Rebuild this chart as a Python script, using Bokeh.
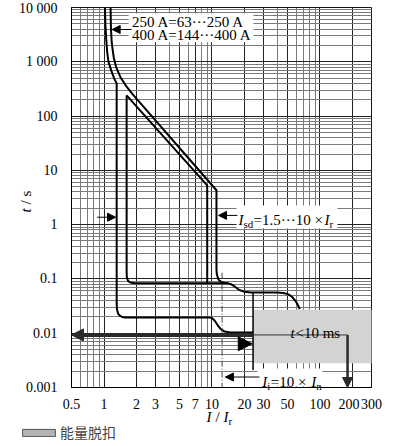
import math
from bokeh.plotting import figure
from bokeh.models import (Range1d, FixedTicker, Label, Arrow, NormalHead, Grid,
                          BoxAnnotation, Legend, LegendItem, CustomJSTickFormatter)
from bokeh.embed import file_html
from bokeh.resources import INLINE

SERIF = "Liberation Serif"
CJK = "Noto Sans CJK SC"

# ---------------- axis ticks ----------------
x_ticks = [0.5, 1, 2, 3, 5, 7, 10, 20, 30, 50, 100, 200, 300]
x_tick_labels = ["0.5", "1", "2", "3", "5", "7", "10", "20", "30", "50", "100", "200\u2002", "300"]
y_ticks = [0.001, 0.01, 0.1, 1, 10, 100, 1000, 10000]
y_tick_labels = ["0.001", "0.01", "0.1", "1", "10", "100", "1 000", "10 000"]

# ---------------- trip curves (I/Ir , t in s) ----------------
q_I = [1.02, 1.03, 1.05, 1.07, 1.10, 1.17, 1.25, 1.31, 1.31, 1.32, 1.35, 1.40, 1.48, 1.55,
       9.4, 10.0, 10.6, 11.3, 12.0, 13.0, 14.5, 24.0]
q_t = [10000, 5000, 2500, 1500, 1000, 680, 480, 400, 0.035, 0.027, 0.023, 0.021, 0.0198, 0.0195,
       0.0195, 0.019, 0.017, 0.014, 0.012, 0.0108, 0.0104, 0.0103]
p_I = [1.15, 1.16, 1.18, 1.23, 1.30, 1.42, 1.60, 1.82, 11.0, 11.0, 11.1, 11.5, 12.2, 13.2, 14.0]
p_t = [10000, 4000, 2200, 1200, 780, 520, 360, 260, 4.3, 0.15, 0.12, 0.097, 0.088, 0.084, 0.083]
s_I = [1.62, 9.03, 9.03]
s_t = [240, 5.3, 0.083]
r_I = [1.62, 1.62, 1.63, 1.67, 1.75, 1.9, 14.0, 15.0, 16.3, 17.8, 20, 23, 40, 46, 51, 55, 59, 62, 65]
r_t = [240, 0.13, 0.105, 0.092, 0.086, 0.083, 0.083, 0.08, 0.072, 0.063, 0.058, 0.056,
       0.056, 0.055, 0.052, 0.047, 0.040, 0.034, 0.028]

energy_I = [24, 300]
energy_t = [0.0028, 0.027]
energy_edge_I = [24, 24]
energy_edge_t = [0.056, 0.0021]
energy_arrow_t = 0.0093
energy_arrow_I = [24, 0.5]
energy_arrow_end_I = 180
instant_I = [12.4, 12.4]
instant_t = [0.13, 0.001]

# ---------------- layout (pixels) ----------------
W, H = 394, 446
PL, PR, PT, PB = 71, 371, 7, 387          # plot-area edges inside the canvas
X0, X1 = 0.5, 300
Y0, Y1 = 0.001, 10000
dx = (math.log10(X1) - math.log10(X0)) / (PR - PL)
dy = (math.log10(Y1) - math.log10(Y0)) / (PB - PT)
xr = Range1d(10 ** (math.log10(X0) - PL * dx), 10 ** (math.log10(X1) + (W - PR) * dx))
yr = Range1d(10 ** (math.log10(Y0) - (H - PB) * dy), 10 ** (math.log10(Y1) + PT * dy))

p = figure(width=W, height=H, x_axis_type="log", y_axis_type="log",
           x_range=xr, y_range=yr, output_backend="svg", toolbar_location=None, title=None,
           min_border=0, min_border_left=0, min_border_right=0, min_border_top=0,
           min_border_bottom=0)
p.outline_line_color = None
p.background_fill_color = "white"
p.border_fill_color = "white"


def minor_list(lo, hi, exps, ms, majors):
    out = []
    for e in exps:
        for m in ms:
            v = round(m * 10 ** e, 6)
            if lo <= v <= hi and v not in majors:
                out.append(v)
    return out


x_minor = minor_list(X0, X1, range(-1, 3), range(1, 10), x_ticks)
y_minor = minor_list(Y0, Y1, range(-3, 4), range(2, 10), y_ticks)

fmt_code = """
for (let i = 0; i < tv.length; i++) {
  if (Math.abs(Math.log10(tick) - Math.log10(tv[i])) < 1e-6) return tl[i];
}
return '';
"""
for ax, ticks, minor, labels, standoff, loc, bnds in [
        (p.xaxis[0], x_ticks, x_minor, x_tick_labels, 3, Y0, (X0, X1)),
        (p.yaxis[0], y_ticks, y_minor, y_tick_labels, 8, X0, (Y0, Y1))]:
    ax.ticker = FixedTicker(ticks=ticks, minor_ticks=minor)
    ax.formatter = CustomJSTickFormatter(args=dict(tv=ticks, tl=labels), code=fmt_code)
    ax.fixed_location = loc
    ax.bounds = bnds
    ax.major_tick_line_color = None
    ax.minor_tick_line_color = None
    ax.axis_line_color = "black"
    ax.major_label_text_font = SERIF
    ax.major_label_text_font_size = "14px"
    ax.major_label_text_color = "black"
    ax.major_label_standoff = standoff

has_cross = "cross_bounds" in Grid.properties()
for g, b, cb in [(p.xgrid[0], (X0, X1), (Y0, Y1)), (p.ygrid[0], (Y0, Y1), (X0, X1))]:
    g.grid_line_color = "#222222"
    g.grid_line_width = 1
    g.minor_grid_line_color = "#7a7a7a"
    g.minor_grid_line_width = 1
    g.bounds = b
    if has_cross:
        g.cross_bounds = cb

if not has_cross:
    for g in (p.xgrid[0], p.ygrid[0]):
        g.visible = False
    p.segment(x0=x_minor, y0=[Y0] * len(x_minor), x1=x_minor, y1=[Y1] * len(x_minor),
              line_color="#7a7a7a", line_width=1)
    p.segment(x0=[X0] * len(y_minor), y0=y_minor, x1=[X1] * len(y_minor), y1=y_minor,
              line_color="#7a7a7a", line_width=1)
    p.segment(x0=x_ticks, y0=[Y0] * len(x_ticks), x1=x_ticks, y1=[Y1] * len(x_ticks),
              line_color="#222222", line_width=1)
    p.segment(x0=[X0] * len(y_ticks), y0=y_ticks, x1=[X1] * len(y_ticks), y1=y_ticks,
              line_color="#222222", line_width=1)

# energy zone (legend swatch style kept on a hidden twin renderer)
swatch = p.quad(left=[energy_I[0]], right=[energy_I[1]], bottom=[energy_t[0]], top=[energy_t[1]],
                fill_color="#b3b3b3", line_color="#555555", line_width=1, visible=False)
p.quad(left=[energy_I[0]], right=[energy_I[1]], bottom=[energy_t[0]], top=[energy_t[1]],
       fill_color="#d3d3d3", line_color=None)

# trip curves
for xs, ys in [(q_I, q_t), (p_I, p_t), (s_I, s_t), (r_I, r_t)]:
    p.line(xs, ys, line_color="black", line_width=2)

p.line(energy_edge_I, energy_edge_t, line_color="black", line_width=1.5)
p.line(instant_I, instant_t, line_color="#444444", line_width=1, line_dash="6 2 1 2")

# plot-area border
p.add_layout(BoxAnnotation(left=X0, right=X1, bottom=Y0, top=Y1, fill_alpha=0,
                           line_color="black", line_width=1, level="underlay"))


def head(size, color="black"):
    return NormalHead(size=size, fill_color=color, line_color=color, line_width=1)


p.add_layout(Arrow(x_start=energy_arrow_I[0], y_start=energy_arrow_t, x_end=energy_arrow_I[1],
                   y_end=energy_arrow_t, line_width=4, line_color="#2a2a2a", end=head(12, "#2a2a2a")))
p.add_layout(Arrow(x_start=energy_arrow_I[0], y_start=energy_arrow_t, x_end=energy_arrow_end_I,
                   y_end=energy_arrow_t, line_width=1, line_color="#333333", end=None))
p.add_layout(Arrow(x_start=energy_arrow_end_I, y_start=energy_arrow_t, x_end=energy_arrow_end_I,
                   y_end=Y0, line_width=2.5, line_color="#2a2a2a", end=head(10, "#2a2a2a")))
p.add_layout(Arrow(x_start=21.5, y_start=0.0064, x_end=23.6, y_end=0.0064,
                   line_alpha=0, end=head(14)))


def lab(x, y, text, size="15px", italic=False, xo=0, yo=0, font=SERIF, align="left",
        baseline="alphabetic", angle=0.0):
    p.add_layout(Label(x=x, y=y, text=text, x_offset=xo, y_offset=yo, text_font=font,
                       text_font_size=size, text_font_style="italic" if italic else "normal",
                       text_color="black", text_align=align, text_baseline=baseline, angle=angle))


# top label
p.add_layout(BoxAnnotation(left=1.69, right=24.2, bottom=2297, top=7850, fill_color="white",
                           fill_alpha=1, line_color=None))
lab(1.82, 5360, "250 A=63···250 A", baseline="middle")
lab(1.82, 3050, "400 A=144···400 A", baseline="middle")
p.add_layout(Arrow(x_start=1.80, y_start=3935, x_end=1.19, y_end=3935, line_width=1, end=head(8)))

# arrow to Isd at minimum setting
p.add_layout(Arrow(x_start=0.865, y_start=1.37, x_end=1.28, y_end=1.37, line_width=1, end=head(8)))

# Isd label
p.add_layout(BoxAnnotation(left=16.9, right=145, bottom=0.85, top=2.26, fill_color="white",
                           fill_alpha=1, line_color=None))
p.add_layout(Arrow(x_start=17.2, y_start=1.48, x_end=11.5, y_end=1.48, line_width=1, end=head(8)))
lab(17.6, 1.22, "I", italic=True)
lab(17.6, 1.22, "sd", size="11px", xo=5, yo=-4)
lab(17.6, 1.22, "=1.5···10 ×", xo=15)
lab(17.6, 1.22, "I", italic=True, xo=86)
lab(17.6, 1.22, "r", size="11px", xo=91, yo=-4)

# t < 10 ms
lab(53.3, 0.0099, "t", italic=True)
lab(53.3, 0.0099, "<10 ms", xo=5)

# Ii label
p.add_layout(BoxAnnotation(left=26.4, right=105, bottom=0.00105, top=0.00225, fill_color="white",
                           fill_alpha=1, line_color=None))
p.add_layout(Arrow(x_start=27.5, y_start=0.00156, x_end=13.3, y_end=0.00156, line_width=1,
                   end=head(8)))
lab(29.2, 0.00127, "I", italic=True)
lab(29.2, 0.00127, "i", size="11px", xo=5, yo=-4)
lab(29.2, 0.00127, "=10 ×", xo=8.5)
lab(29.2, 0.00127, "I", italic=True, xo=49)
lab(29.2, 0.00127, "n", size="11px", xo=54, yo=-4)

# axis titles
lab(8.89, 2.81e-4, "I", italic=True)
lab(8.89, 2.81e-4, "/", xo=9)
lab(8.89, 2.81e-4, "I", italic=True, xo=17)
lab(8.89, 2.81e-4, "r", size="11px", xo=22, yo=-4)

lab(0.1875, 1.68, "t", italic=True, baseline="middle", angle=math.pi / 2)
lab(0.1875, 1.68, "/ s", baseline="middle", angle=math.pi / 2, yo=8)

# legend
legend = Legend(items=[LegendItem(label="能量脱扣", renderers=[swatch])], location=(18, 4),
                orientation="horizontal", glyph_width=41, glyph_height=9, label_height=14,
                label_text_font=CJK, label_text_font_size="14px", label_standoff=1,
                padding=0, margin=0, spacing=0, border_line_alpha=0, background_fill_alpha=0)
p.add_layout(legend)

open("out.html", "w").write(file_html(p, INLINE))
